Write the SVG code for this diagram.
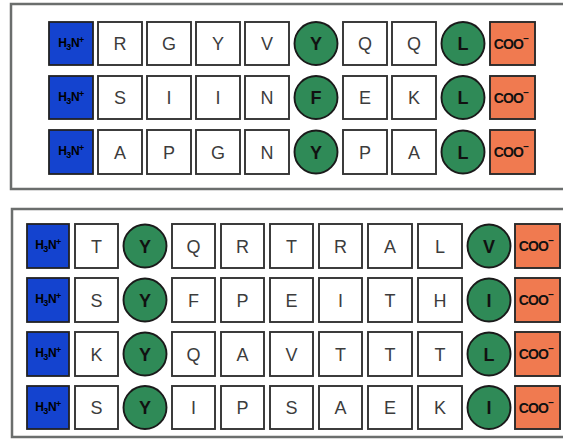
<svg xmlns="http://www.w3.org/2000/svg" width="563" height="442" viewBox="0 0 563 442">
<style>
.frame{fill:#fff;stroke:#6b6e6d;stroke-width:2.5}
.n{fill:#1443cf;stroke:#222;stroke-width:1.8}
.b{fill:#fff;stroke:#333;stroke-width:1.9}
.c{fill:#2f8a57;stroke:#1a1a1a;stroke-width:1.9}
.o{fill:#f07a50;stroke:#2a2a2a;stroke-width:1.9}
.t{font-family:"Liberation Sans",Arial,sans-serif;font-size:18px;fill:#3c3c3c;text-anchor:middle}
.tc{font-family:"Liberation Sans",Arial,sans-serif;font-size:18px;font-weight:bold;fill:#111;text-anchor:middle}
.tn{font-family:"Liberation Sans",Arial,sans-serif;font-size:12px;font-weight:bold;fill:#000;text-anchor:middle;letter-spacing:-0.5px}
.to{font-family:"Liberation Sans",Arial,sans-serif;font-size:14px;font-weight:bold;fill:#111;text-anchor:middle;letter-spacing:-0.8px}
</style>
<rect width="563" height="442" fill="#fff"/>
<path class="frame" d="M575 4 H11 V189 H575"/>
<path class="frame" d="M575 209 H12 V437 H575"/>
<g id="top">
<g id="r1">
<rect class="n" x="49" y="22" width="44" height="43"/><text class="tn" x="71" y="47">H<tspan font-size="9" dy="3">3</tspan><tspan dy="-3">N</tspan><tspan font-size="9" dy="-4">+</tspan></text>
<rect class="b" x="98" y="22" width="44" height="43"/><text class="t" x="120" y="50">R</text>
<rect class="b" x="147" y="22" width="44" height="43"/><text class="t" x="169" y="50">G</text>
<rect class="b" x="196" y="22" width="44" height="43"/><text class="t" x="218" y="50">Y</text>
<rect class="b" x="245" y="22" width="44" height="43"/><text class="t" x="267" y="50">V</text>
<circle class="c" cx="316" cy="43.5" r="21.5"/><text class="tc" x="316" y="50">Y</text>
<rect class="b" x="343" y="22" width="44" height="43"/><text class="t" x="365" y="50">Q</text>
<rect class="b" x="392" y="22" width="44" height="43"/><text class="t" x="414" y="50">Q</text>
<circle class="c" cx="463" cy="43.5" r="21.5"/><text class="tc" x="463" y="50">L</text>
<rect class="o" x="490" y="22" width="45" height="43"/><text class="to" x="511" y="49">COO<tspan font-size="10" dy="-7">−</tspan></text>
</g>
<g id="r2">
<rect class="n" x="49" y="76" width="44" height="43"/><text class="tn" x="71" y="101">H<tspan font-size="9" dy="3">3</tspan><tspan dy="-3">N</tspan><tspan font-size="9" dy="-4">+</tspan></text>
<rect class="b" x="98" y="76" width="44" height="43"/><text class="t" x="120" y="104">S</text>
<rect class="b" x="147" y="76" width="44" height="43"/><text class="t" x="169" y="104">I</text>
<rect class="b" x="196" y="76" width="44" height="43"/><text class="t" x="218" y="104">I</text>
<rect class="b" x="245" y="76" width="44" height="43"/><text class="t" x="267" y="104">N</text>
<circle class="c" cx="316" cy="97.5" r="21.5"/><text class="tc" x="316" y="104">F</text>
<rect class="b" x="343" y="76" width="44" height="43"/><text class="t" x="365" y="104">E</text>
<rect class="b" x="392" y="76" width="44" height="43"/><text class="t" x="414" y="104">K</text>
<circle class="c" cx="463" cy="97.5" r="21.5"/><text class="tc" x="463" y="104">L</text>
<rect class="o" x="490" y="76" width="45" height="43"/><text class="to" x="511" y="103">COO<tspan font-size="10" dy="-7">−</tspan></text>
</g>
<g id="r3">
<rect class="n" x="49" y="130" width="44" height="44"/><text class="tn" x="71" y="155">H<tspan font-size="9" dy="3">3</tspan><tspan dy="-3">N</tspan><tspan font-size="9" dy="-4">+</tspan></text>
<rect class="b" x="98" y="130" width="44" height="44"/><text class="t" x="120" y="158.5">A</text>
<rect class="b" x="147" y="130" width="44" height="44"/><text class="t" x="169" y="158.5">P</text>
<rect class="b" x="196" y="130" width="44" height="44"/><text class="t" x="218" y="158.5">G</text>
<rect class="b" x="245" y="130" width="44" height="44"/><text class="t" x="267" y="158.5">N</text>
<circle class="c" cx="316" cy="152" r="21.5"/><text class="tc" x="316" y="158.5">Y</text>
<rect class="b" x="343" y="130" width="44" height="44"/><text class="t" x="365" y="158.5">P</text>
<rect class="b" x="392" y="130" width="44" height="44"/><text class="t" x="414" y="158.5">A</text>
<circle class="c" cx="463" cy="152" r="21.5"/><text class="tc" x="463" y="158.5">L</text>
<rect class="o" x="490" y="130" width="45" height="44"/><text class="to" x="511" y="157">COO<tspan font-size="10" dy="-7">−</tspan></text>
</g>
</g>
<g id="bottom">
<g id="s1">
<rect class="n" x="27" y="224" width="42" height="44"/><text class="tn" x="48" y="249">H<tspan font-size="9" dy="3">3</tspan><tspan dy="-3">N</tspan><tspan font-size="9" dy="-4">+</tspan></text>
<rect class="b" x="75" y="224" width="43" height="44"/><text class="t" x="96.5" y="252.5">T</text>
<circle class="c" cx="145" cy="246" r="21.5"/><text class="tc" x="145" y="252.5">Y</text>
<rect class="b" x="172" y="224" width="43" height="44"/><text class="t" x="193.5" y="252.5">Q</text>
<rect class="b" x="221" y="224" width="43" height="44"/><text class="t" x="242.5" y="252.5">R</text>
<rect class="b" x="270" y="224" width="43" height="44"/><text class="t" x="291.5" y="252.5">T</text>
<rect class="b" x="319" y="224" width="43" height="44"/><text class="t" x="340.5" y="252.5">R</text>
<rect class="b" x="368" y="224" width="44" height="44"/><text class="t" x="390" y="252.5">A</text>
<rect class="b" x="418" y="224" width="44" height="44"/><text class="t" x="440" y="252.5">L</text>
<circle class="c" cx="489" cy="246" r="21.5"/><text class="tc" x="489" y="252.5">V</text>
<rect class="o" x="515" y="224" width="45" height="44"/><text class="to" x="536" y="251">COO<tspan font-size="10" dy="-7">−</tspan></text>
</g>
<g id="s2">
<rect class="n" x="27" y="278" width="42" height="44"/><text class="tn" x="48" y="303">H<tspan font-size="9" dy="3">3</tspan><tspan dy="-3">N</tspan><tspan font-size="9" dy="-4">+</tspan></text>
<rect class="b" x="75" y="278" width="43" height="44"/><text class="t" x="96.5" y="306.5">S</text>
<circle class="c" cx="145" cy="300" r="21.5"/><text class="tc" x="145" y="306.5">Y</text>
<rect class="b" x="172" y="278" width="43" height="44"/><text class="t" x="193.5" y="306.5">F</text>
<rect class="b" x="221" y="278" width="43" height="44"/><text class="t" x="242.5" y="306.5">P</text>
<rect class="b" x="270" y="278" width="43" height="44"/><text class="t" x="291.5" y="306.5">E</text>
<rect class="b" x="319" y="278" width="43" height="44"/><text class="t" x="340.5" y="306.5">I</text>
<rect class="b" x="368" y="278" width="44" height="44"/><text class="t" x="390" y="306.5">T</text>
<rect class="b" x="418" y="278" width="44" height="44"/><text class="t" x="440" y="306.5">H</text>
<circle class="c" cx="489" cy="300" r="21.5"/><text class="tc" x="489" y="306.5">I</text>
<rect class="o" x="515" y="278" width="45" height="44"/><text class="to" x="536" y="305">COO<tspan font-size="10" dy="-7">−</tspan></text>
</g>
<g id="s3">
<rect class="n" x="27" y="332" width="42" height="44"/><text class="tn" x="48" y="357">H<tspan font-size="9" dy="3">3</tspan><tspan dy="-3">N</tspan><tspan font-size="9" dy="-4">+</tspan></text>
<rect class="b" x="75" y="332" width="43" height="44"/><text class="t" x="96.5" y="360.5">K</text>
<circle class="c" cx="145" cy="354" r="21.5"/><text class="tc" x="145" y="360.5">Y</text>
<rect class="b" x="172" y="332" width="43" height="44"/><text class="t" x="193.5" y="360.5">Q</text>
<rect class="b" x="221" y="332" width="43" height="44"/><text class="t" x="242.5" y="360.5">A</text>
<rect class="b" x="270" y="332" width="43" height="44"/><text class="t" x="291.5" y="360.5">V</text>
<rect class="b" x="319" y="332" width="43" height="44"/><text class="t" x="340.5" y="360.5">T</text>
<rect class="b" x="368" y="332" width="44" height="44"/><text class="t" x="390" y="360.5">T</text>
<rect class="b" x="418" y="332" width="44" height="44"/><text class="t" x="440" y="360.5">T</text>
<circle class="c" cx="489" cy="354" r="21.5"/><text class="tc" x="489" y="360.5">L</text>
<rect class="o" x="515" y="332" width="45" height="44"/><text class="to" x="536" y="359">COO<tspan font-size="10" dy="-7">−</tspan></text>
</g>
<g id="s4">
<rect class="n" x="27" y="386" width="42" height="43"/><text class="tn" x="48" y="411">H<tspan font-size="9" dy="3">3</tspan><tspan dy="-3">N</tspan><tspan font-size="9" dy="-4">+</tspan></text>
<rect class="b" x="75" y="386" width="43" height="43"/><text class="t" x="96.5" y="414">S</text>
<circle class="c" cx="145" cy="407.5" r="21.5"/><text class="tc" x="145" y="414">Y</text>
<rect class="b" x="172" y="386" width="43" height="43"/><text class="t" x="193.5" y="414">I</text>
<rect class="b" x="221" y="386" width="43" height="43"/><text class="t" x="242.5" y="414">P</text>
<rect class="b" x="270" y="386" width="43" height="43"/><text class="t" x="291.5" y="414">S</text>
<rect class="b" x="319" y="386" width="43" height="43"/><text class="t" x="340.5" y="414">A</text>
<rect class="b" x="368" y="386" width="44" height="43"/><text class="t" x="390" y="414">E</text>
<rect class="b" x="418" y="386" width="44" height="43"/><text class="t" x="440" y="414">K</text>
<circle class="c" cx="489" cy="407.5" r="21.5"/><text class="tc" x="489" y="414">I</text>
<rect class="o" x="515" y="386" width="45" height="43"/><text class="to" x="536" y="413">COO<tspan font-size="10" dy="-7">−</tspan></text>
</g>
</g>
</svg>
